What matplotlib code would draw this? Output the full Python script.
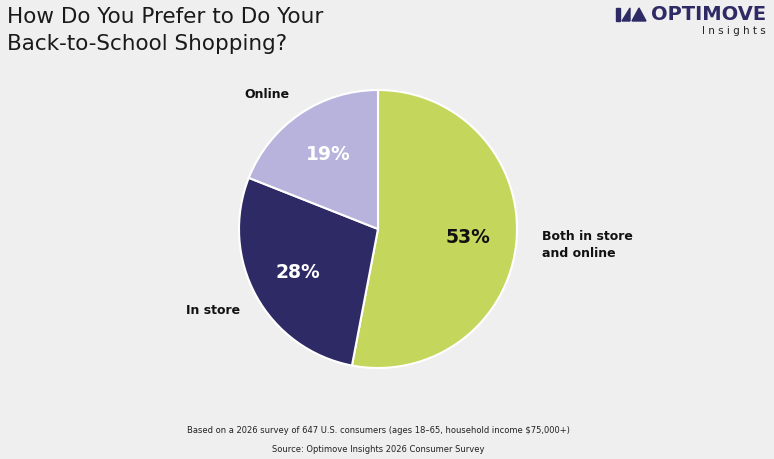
import matplotlib.pyplot as plt
from matplotlib.patches import Polygon, Rectangle

labels = ["Both in store\nand online", "In store", "Online"]
shares = [53, 28, 19]
colors = ["#C5D65C", "#2E2A65", "#B8B3DD"]
pct_colors = ["#111111", "white", "white"]

W, H = 774, 460
bg = "#EFEFEF"
fig = plt.figure(figsize=(W / 100, H / 100), dpi=100, facecolor=bg)
ax = fig.add_axes([0, 0, 1, 1])
ax.axis("off")

cx, cy, r = 378, H - 230, 139
ax.pie(shares, colors=colors, startangle=90, counterclock=False,
       center=(cx, cy), radius=r,
       wedgeprops=dict(edgecolor="white", linewidth=1.5))
ax.set_xlim(0, W)
ax.set_ylim(0, H)
ax.set_aspect("equal")

pct_pos = [(468, 238), (298, 272), (328, 155)]
for s, (x, y), c in zip(shares, pct_pos, pct_colors):
    ax.text(x, H - y, f"{s}%", ha="center", va="center", fontsize=13.5,
            fontweight="bold", color=c)

ax.text(542, H - 245, labels[0], ha="left", va="center", fontsize=9,
        fontweight="bold", color="#111111", linespacing=1.4)
ax.text(186, H - 310, labels[1], ha="left", va="center", fontsize=9,
        fontweight="bold", color="#111111")
ax.text(244, H - 94, labels[2], ha="left", va="center", fontsize=9,
        fontweight="bold", color="#111111")

# title
ax.text(7, H - 17, "How Do You Prefer to Do Your", ha="left", va="center",
        fontsize=15.5, color="#1A1A1A")
ax.text(7, H - 44, "Back-to-School Shopping?", ha="left", va="center",
        fontsize=15.5, color="#1A1A1A")

# logo
navy = "#2E2A65"
ax.add_patch(Rectangle((616, H - 22), 4, 13, color=navy))
ax.add_patch(Polygon([(622, H - 22), (630, H - 9), (630, H - 22)], color=navy))
ax.add_patch(Polygon([(632, H - 22), (639, H - 9), (646, H - 22)], color=navy))
ax.text(766, H - 15, "OPTIMOVE", ha="right", va="center", fontsize=14,
        fontweight="bold", color=navy)
ax.text(766, H - 31, "I n s i g h t s", ha="right", va="center", fontsize=7.5,
        color="#222222")

# footnotes
ax.text(378, H - 431, "Based on a 2026 survey of 647 U.S. consumers (ages 18\u201365, household income $75,000+)",
        ha="center", va="center", fontsize=6, color="#222222")
ax.text(378, H - 450, "Source: Optimove Insights 2026 Consumer Survey",
        ha="center", va="center", fontsize=6, color="#222222")

fig.savefig("out.png", dpi=100, facecolor=bg)
